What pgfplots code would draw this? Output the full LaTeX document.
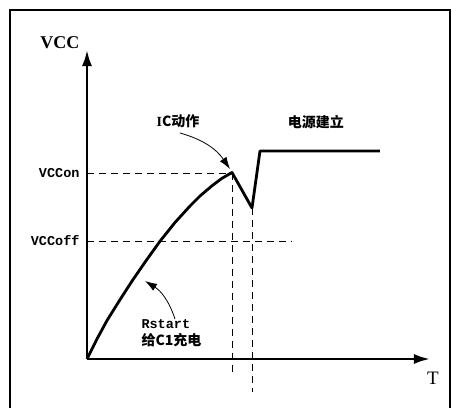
\documentclass[border=0pt]{standalone}
\usepackage{fontspec}
\setmainfont{Liberation Serif}
\newfontfamily\cjk{Noto Sans CJK SC}
\newfontfamily\mono{Liberation Mono}
\usepackage{pgfplots}
\pgfplotsset{compat=1.18}
\usetikzlibrary{arrows.meta}

\pgfplotstableread{
x y
0 0
10 20
20 38.5
33 59.3
45 77.9
58 96.8
73 117.8
88 136.5
103 153
113 163
125 173.2
135 180.7
145 186.5
165 151
173 208
293 208
}\vccdata

\begin{document}
\begin{tikzpicture}
\begin{axis}[
    x=1pt, y=1pt,
    xmin=0, xmax=343, ymin=0, ymax=309,
    axis lines=left,
    axis line style={line width=2.4pt, -{Latex[length=16pt,width=10pt]}},
    ticks=none,
    clip=false,
]
\path[use as bounding box] (axis cs:-87,-49) rectangle (axis cs:364,359);
\draw[line width=1.2pt] (axis cs:-77,-49) -- (axis cs:-77,349) -- (axis cs:363,349) -- (axis cs:363,-49);

% dashed guide lines
\draw[dash pattern=on 7pt off 5pt, line width=0.8pt] (axis cs:0,186) -- (axis cs:145,186);
\draw[dash pattern=on 7pt off 5pt, line width=0.8pt] (axis cs:0,118) -- (axis cs:205,118);
\draw[dash pattern=on 7pt off 5pt, line width=0.8pt] (axis cs:145,186) -- (axis cs:145,-14);
\draw[dash pattern=on 7pt off 5pt, line width=0.8pt] (axis cs:165,151) -- (axis cs:165,-33);

\addplot[black, line width=2.8pt, line join=round, no marks] table {\vccdata};

% labels
\node[font=\fontsize{18}{18}\selectfont\bfseries] at (axis cs:-27,316) {VCC};
\node[font=\fontsize{19}{19}\selectfont] at (axis cs:346,-19) {T};
\node[anchor=east, font=\mono\bfseries\fontsize{13.5}{13.5}\selectfont] at (axis cs:-4,186) {VCCon};
\node[anchor=east, font=\mono\bfseries\fontsize{13.5}{13.5}\selectfont] at (axis cs:-4,118) {VCCoff};
\node[font=\bfseries\fontsize{14}{14}\selectfont] at (axis cs:91,238) {I{\cjk C动作}};
\node[font=\cjk\bfseries\fontsize{14}{14}\selectfont] at (axis cs:229,237) {电源建立};
\node[anchor=west, font=\mono\bfseries\fontsize{13.5}{13.5}\selectfont] at (axis cs:51,35) {Rstart};
\node[anchor=west, font=\cjk\bfseries\fontsize{14}{14}\selectfont] at (axis cs:51,19) {给C1充电};

% annotation arrows
\draw[line width=0.8pt, -{Latex[length=12pt,width=8pt]}] (axis cs:93,226) to[bend left=20] (axis cs:143,190);
\draw[line width=0.8pt, -{Latex[length=12pt,width=8pt]}] (axis cs:88,40) to[bend right=20] (axis cs:58,78);
\end{axis}
\end{tikzpicture}
\end{document}
